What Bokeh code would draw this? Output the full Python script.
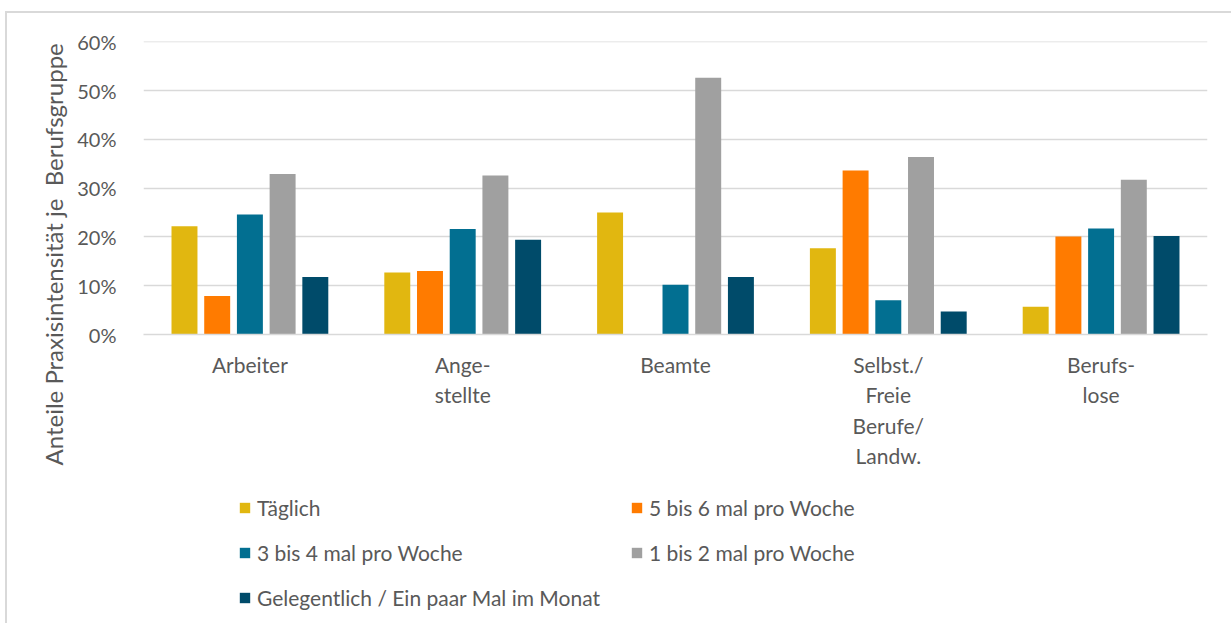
from bokeh.plotting import figure
from bokeh.layouts import column
from bokeh.models import (ColumnDataSource, FactorRange, Legend, LegendItem, Title,
                          NumeralTickFormatter, SingleIntervalTicker, Range1d)
from bokeh.transform import dodge
from bokeh.embed import file_html
from bokeh.resources import INLINE

categories = ["Arbeiter", "Ange-\nstellte", "Beamte",
              "Selbst./\nFreie\nBerufe/\nLandw.", "Berufs-\nlose"]
series_names = ["Täglich", "5 bis 6 mal pro Woche", "3 bis 4 mal pro Woche",
                "1 bis 2 mal pro Woche", "Gelegentlich / Ein paar Mal im Monat"]
taeglich = [0.222, 0.127, 0.250, 0.177, 0.057]
mal_5_6 = [0.079, 0.130, 0.0, 0.336, 0.201]
mal_3_4 = [0.246, 0.216, 0.102, 0.070, 0.217]
mal_1_2 = [0.329, 0.326, 0.526, 0.364, 0.317]
gelegentlich = [0.118, 0.194, 0.118, 0.047, 0.202]
colors = ["#E1B710", "#FF7B00", "#026F91", "#A0A0A0", "#004B6A"]
y_title = "Anteile Praxisintensität je \u00a0Berufsgruppe"

TXT = "#595959"
FONT = "Lato"

src = ColumnDataSource(dict(cat=categories, s0=taeglich, s1=mal_5_6,
                            s2=mal_3_4, s3=mal_1_2, s4=gelegentlich))
xr = FactorRange(*categories, range_padding=0)

# ---------------- main chart ----------------
p = figure(x_range=xr, y_range=(0, 0.6005),
           width=1231, height=480, output_backend="svg", toolbar_location=None,
           min_border_left=143, min_border_right=24, min_border_top=41,
           min_border_bottom=146)
p.outline_line_color = None
p.border_fill_color = None
p.background_fill_color = None
p.styles = {"box-shadow": "inset 5px 11px 0 0 #ffffff, inset 7px 13px 0 0 #d9d9d9",
            "background-color": "#ffffff"}

stride = 0.1537
bw = 0.122
for i, col in enumerate(colors):
    p.vbar(x=dodge("cat", (i - 2) * stride, range=xr), top="s%d" % i,
           width=bw, source=src, fill_color=col, line_color=None)

p.xgrid.grid_line_color = None
p.ygrid.grid_line_color = "#d9d9d9"
p.ygrid.grid_line_width = 1.5

p.yaxis.ticker = SingleIntervalTicker(interval=0.1)
p.yaxis.formatter = NumeralTickFormatter(format="0%")
p.yaxis.axis_line_color = None
p.yaxis.major_tick_line_color = None
p.yaxis.major_tick_out = 0
p.yaxis.minor_tick_line_color = None
p.yaxis.major_label_text_font = FONT
p.yaxis.major_label_text_font_size = "20px"
p.yaxis.major_label_text_color = TXT
p.yaxis.major_label_standoff = 23

p.xaxis.axis_line_color = "#d9d9d9"
p.xaxis.axis_line_width = 1.5
p.xaxis.major_tick_line_color = None
p.xaxis.major_tick_out = 0
p.xaxis.minor_tick_line_color = None
p.xaxis.major_label_text_font = FONT
p.xaxis.major_label_text_font_size = "21px"
p.xaxis.major_label_text_color = TXT
p.xaxis.major_label_text_line_height = 1.22
p.xaxis.major_label_standoff = 17

ytitle = Title(text=y_title, align="left", offset=-131, standoff=14,
               text_font=FONT, text_font_size="24px", text_font_style="normal",
               text_color=TXT)
p.add_layout(ytitle, "left")

# ---------------- legend strip ----------------
lg = figure(x_range=xr, y_range=Range1d(2, 3), width=1231, height=143,
            output_backend="svg", toolbar_location=None,
            x_axis_location=None, y_axis_location=None,
            min_border_left=0, min_border_right=0, min_border_top=0,
            min_border_bottom=0)
lg.outline_line_color = None
lg.border_fill_color = None
lg.background_fill_color = None
lg.grid.grid_line_color = None
lg.styles = {"box-shadow": "inset 5px 0 0 0 #ffffff, inset 7px 0 0 0 #d9d9d9",
             "background-color": "#ffffff"}

# same bars, kept outside this strip's visible y-range: only their legend swatches show
swatches = [lg.vbar(x="cat", top="s%d" % i, width=bw, source=src,
                    fill_color=col, line_color=None)
            for i, col in enumerate(colors)]

# column-major fill -> rows read: Täglich | 5-6, 3-4 | 1-2, Gelegentlich
order = [0, 2, 4, 1, 3]
items = [LegendItem(label=series_names[k], renderers=[swatches[k]]) for k in order]
legend = Legend(items=items, ncols=2, location=(95, 13))
legend.label_text_font = FONT
legend.label_text_font_size = "21px"
legend.label_text_color = TXT
legend.glyph_width = 13
legend.glyph_height = 13
legend.label_standoff = 6
legend.label_height = 20
legend.label_width = 353
legend.spacing = 20
legend.padding = 0
legend.margin = 0
legend.border_line_color = None
legend.background_fill_alpha = 0
lg.add_layout(legend)

layout = column(p, lg, spacing=0)
open("out.html", "w").write(file_html(layout, INLINE))
